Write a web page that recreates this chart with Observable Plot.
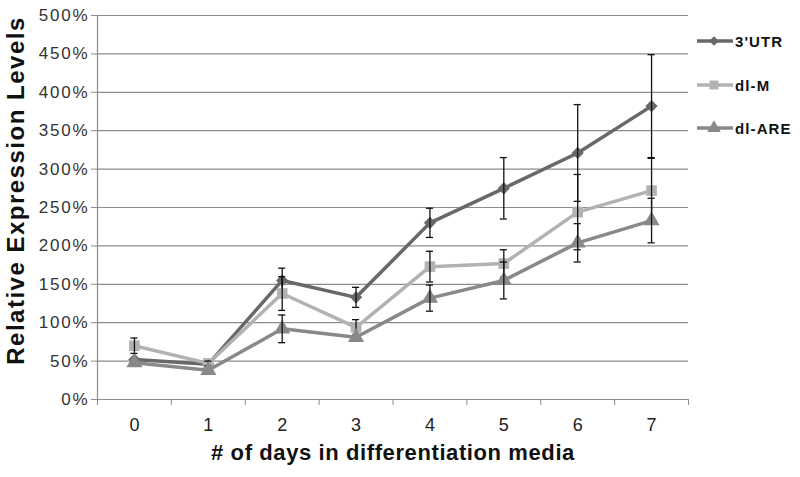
<!DOCTYPE html>
<html><head><meta charset="utf-8">
<script src="https://cdn.jsdelivr.net/npm/d3@7"></script>
<script src="https://cdn.jsdelivr.net/npm/@observablehq/plot@0.6"></script>
<style>
body{margin:0;background:#fff;font-family:"Liberation Sans",Arial,sans-serif}
#wrap{position:relative;width:800px;height:477px}
#legend{position:absolute;left:697px;top:0;}
.li{position:absolute;left:0;display:flex;align-items:center;font-weight:bold;font-size:15px;letter-spacing:1.1px;color:#111;white-space:nowrap}
.li svg{margin-right:2px}
.yt text{letter-spacing:1.8px}
.xt{letter-spacing:0.6px}
.yl{letter-spacing:1.5px}
</style>
</head><body>
<div id="wrap"><div id="chart"></div><div id="legend"></div></div>
<script>
const days = [0, 1, 2, 3, 4, 5, 6, 7];
const seriesNames = ["3'UTR", "dl-M", "dl-ARE"];
const utr      = [52, 46, 155, 133, 230, 275, 321, 382];
const utrErr   = [0, 0, 16, 13, 19, 40, 63, 67];
const dlM      = [70, 47, 138, 94, 173, 177, 244, 272];
const dlMErr   = [10, 3, 22, 10, 20, 18, 49, 42];
const dlARE    = [48, 38, 92, 81, 132, 155, 204, 233];
const dlAREErr = [0, 0, 18, 0, 17, 24, 25, 29];
const yTicks = [0, 50, 100, 150, 200, 250, 300, 350, 400, 450, 500];
const xLabel = "# of days in differentiation media";
const yLabel = "Relative Expression Levels";

const colors = ["#686868", "#b2b2b2", "#898989"];
const symbols = ["diamond2", "square", "triangle"];
const d3Symbols = [d3.symbolDiamond2, d3.symbolSquare, d3.symbolTriangle];
const vals = [utr, dlM, dlARE];
const errs = [utrErr, dlMErr, dlAREErr];

const rows = [];
seriesNames.forEach((s, i) => days.forEach((d, j) => rows.push({series: s, idx: i, day: d, v: vals[i][j], e: errs[i][j]})));
const errRows = rows.filter(r => r.e > 0);
const bounds = days.map(d => d - 0.5).concat([days[days.length - 1] + 0.5]);
const capHalf = 0.048;

const marks = [
  Plot.ruleY(yTicks, {stroke: "#8c8c8c", strokeWidth: 1.2}),
  Plot.ruleX([bounds[0]], {stroke: "#8c8c8c", strokeWidth: 1.2}),
  Plot.axisY({ticks: yTicks, tickFormat: d => d + "%", tickSize: 6, tickPadding: 2, stroke: "#8c8c8c", fill: "#333", fontSize: 17, label: null, className: "yt"}),
  Plot.axisX({ticks: bounds, tickFormat: () => "", tickSize: 6, stroke: "#8c8c8c", label: null}),
  Plot.axisX({ticks: days, tickSize: 0, tickPadding: 19, fill: "#222", fontSize: 18, label: null}),
  Plot.text([xLabel], {frameAnchor: "bottom", dy: 60, fontSize: 22, fontWeight: "bold", fill: "#111", className: "xt"}),
  Plot.text([yLabel], {frameAnchor: "left", textAnchor: "middle", rotate: -90, dx: -81, dy: -17, fontSize: 24, fontWeight: "bold", fill: "#111", className: "yl"})
];
seriesNames.forEach((s, i) => {
  const data = rows.filter(r => r.idx === i);
  const ed = errRows.filter(r => r.idx === i);
  marks.push(
    Plot.line(data, {x: "day", y: "v", stroke: colors[i], strokeWidth: 3.5}),
    Plot.dot(data, {x: "day", y: "v", symbol: () => symbols[i], fill: colors[i], r: i === 0 ? 5.5 : 6, stroke: "none"}),
    Plot.ruleX(ed, {x: "day", y1: r => r.v - r.e, y2: r => r.v + r.e, stroke: "#111", strokeWidth: 1.3}),
    Plot.ruleY(ed, {y: r => r.v + r.e, x1: r => r.day - capHalf, x2: r => r.day + capHalf, stroke: "#111", strokeWidth: 1.3}),
    Plot.ruleY(ed, {y: r => r.v - r.e, x1: r => r.day - capHalf, x2: r => r.day + capHalf, stroke: "#111", strokeWidth: 1.3})
  );
});

const chart = Plot.plot({
  width: 800, height: 477,
  marginLeft: 97, marginRight: 112, marginTop: 15, marginBottom: 78,
  x: {domain: [bounds[0], bounds[bounds.length - 1]]},
  y: {domain: [0, 500]},
  symbol: {type: "identity"},
  style: {fontFamily: "'Liberation Sans', Arial, sans-serif", background: "#fff", overflow: "visible"},
  marks
});
document.getElementById("chart").appendChild(chart);

const legend = document.getElementById("legend");
const legendY = [41, 85, 128];
seriesNames.forEach((s, i) => {
  const div = document.createElement("div");
  div.className = "li";
  div.style.top = (legendY[i] - 10) + "px";
  const sym = d3.symbol(d3Symbols[i], i === 0 ? 60 : 80)();
  div.innerHTML = `<svg width="36" height="20"><line x1="0" x2="36" y1="10" y2="10" stroke="${colors[i]}" stroke-width="3.5"/><path d="${sym}" transform="translate(17,10)" fill="${colors[i]}"/></svg><span>${s}</span>`;
  legend.appendChild(div);
});
</script>
</body></html>
